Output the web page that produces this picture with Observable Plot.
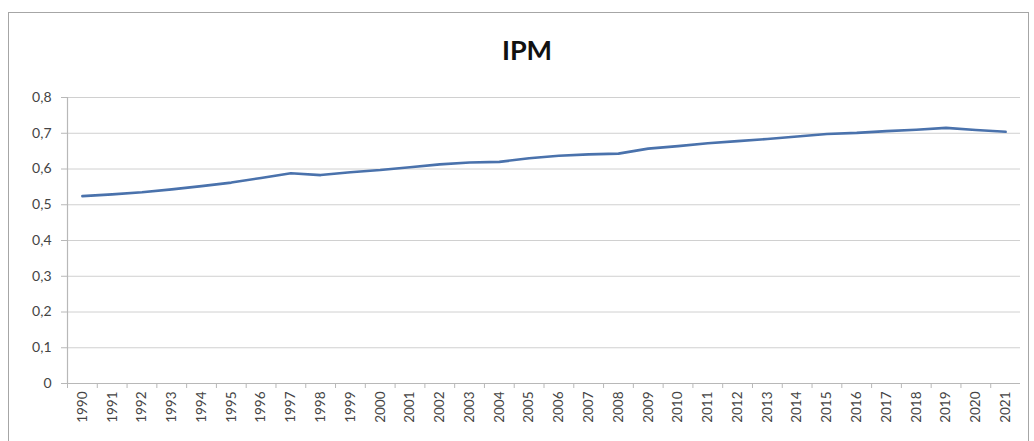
<!DOCTYPE html>
<html>
<head>
<meta charset="utf-8">
<script src="https://cdn.jsdelivr.net/npm/d3@7"></script>
<script src="https://cdn.jsdelivr.net/npm/@observablehq/plot@0.6"></script>
<style>
  body { margin: 0; background: #fff; font-family: Lato, "Open Sans", sans-serif; }
  #wrap { position: relative; width: 1034px; height: 441px; overflow: hidden; }
  #frame { position: absolute; left: 8px; top: 12px; width: 1021px; height: 440px; border: 1.5px solid #a6a6a6; box-sizing: border-box; pointer-events: none; }
  #title { position: absolute; left: 0; width: 1054px; top: 33px; text-align: center; font: bold 27px Lato, "Open Sans", sans-serif; color: #111; }
</style>
</head>
<body>
<div id="wrap">
  <div id="chart"></div>
  <div id="frame"></div>
  <div id="title">IPM</div>
</div>
<script>
const years = ["1990","1991","1992","1993","1994","1995","1996","1997","1998","1999","2000","2001","2002","2003","2004","2005","2006","2007","2008","2009","2010","2011","2012","2013","2014","2015","2016","2017","2018","2019","2020","2021"];
const ipm = [0.524,0.529,0.535,0.543,0.552,0.562,0.575,0.588,0.583,0.591,0.597,0.605,0.613,0.618,0.620,0.630,0.637,0.641,0.643,0.657,0.664,0.672,0.678,0.684,0.691,0.698,0.701,0.706,0.710,0.715,0.709,0.704];
const yTicks = [0,0.1,0.2,0.3,0.4,0.5,0.6,0.7,0.8];

const data = years.map((y, i) => ({year: y, value: ipm[i]}));
const fmt = d => d === 0 ? "0" : d.toFixed(1).replace(".", ",");

const W = 1034, H = 441, mL = 67, mR = 14;
const bw = (W - mL - mR) / years.length;

const plot = Plot.plot({
  width: W,
  height: H,
  marginLeft: mL,
  marginRight: mR,
  marginTop: 97,
  marginBottom: 58,
  style: {fontFamily: "Lato, 'Open Sans', sans-serif", background: "transparent"},
  x: {type: "band", domain: years, padding: 0, round: false},
  y: {domain: [0, 0.8]},
  marks: [
    Plot.gridY(yTicks.slice(1), {stroke: "#d0d0d0", strokeOpacity: 1, strokeWidth: 1}),
    Plot.ruleX([years[0]], {dx: -bw / 2, stroke: "#b8b8b8", strokeWidth: 1.2, y1: 0, y2: 0.8}),
    Plot.ruleY([0], {stroke: "#b8b8b8", strokeWidth: 1.2}),
    Plot.axisY(yTicks, {tickFormat: fmt, tickSize: 6, tickPadding: 10, stroke: "#b8b8b8", fill: "#444", fontSize: 14, label: null}),
    Plot.axisX(years, {text: null, tickSize: 5, dx: -bw / 2, stroke: "#b8b8b8", label: null}),
    Plot.axisX(years, {tickSize: 0, tickPadding: 8, tickRotate: -90, fill: "#444", fontSize: 13.5, label: null}),
    Plot.line(data, {x: "year", y: "value", stroke: "#4a72ac", strokeWidth: 2.6})
  ]
});
document.getElementById("chart").appendChild(plot);
</script>
</body>
</html>
